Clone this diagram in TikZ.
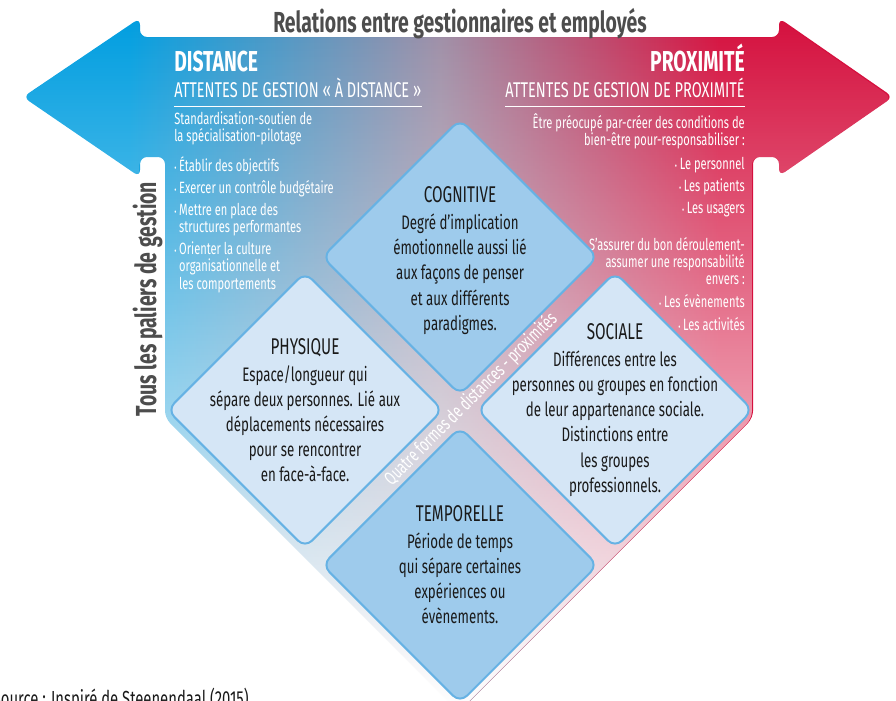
\documentclass[tikz,border=0pt]{standalone}
\usepackage{fontspec}
\setmainfont{Fira Sans}[FakeStretch=0.68]
\newfontfamily\headfont{Fira Sans}[FakeStretch=0.67]
\usetikzlibrary{shapes.geometric,fadings}

\definecolor{distblue}{RGB}{0,158,224}
\definecolor{proxred}{RGB}{213,16,62}
\definecolor{midmauve}{RGB}{158,142,166}
\definecolor{diadark}{RGB}{158,203,236}
\definecolor{dialight}{RGB}{213,230,246}
\definecolor{diaedge}{RGB}{102,178,228}
\definecolor{headgray}{RGB}{77,77,77}
\definecolor{inkgray}{RGB}{26,26,26}

% blue to red across the banner
\pgfdeclarehorizontalshading{bannershade}{100bp}{color(0bp)=(distblue); color(25bp)=(distblue);
  color(31bp)=(distblue); color(49bp)=(midmauve); color(65bp)=(proxred); color(75bp)=(proxred); color(100bp)=(proxred)}
\tikzfading[name=whiten, top color=transparent!100, middle color=transparent!55, bottom color=transparent!0]

\newcommand{\blt}{{\scriptsize\textbullet}\,}
\newcommand{\bltgap}{\hphantom{\blt}}

\begin{document}
\begin{tikzpicture}[x=0.025cm,y=-0.025cm]
\tikzset{dia/.style = {shape=diamond,draw=diaedge,line width=1.4pt,rounded corners=7pt,minimum width=6.9cm,minimum height=6.9cm,inner sep=0pt}}
\tikzset{txt/.style = {text=inkgray,align=center,inner sep=0pt,font=\fontsize{13.9}{17.8}\selectfont}}
\tikzset{side/.style = {text=white,inner sep=0pt,font=\fontsize{11.6}{12.1}\selectfont}}
\tikzset{rule/.style = {draw=white,line width=0.8pt}}
\newcommand{\formname}[1]{{\headfont\fontsize{16.2}{18}\selectfont #1}}
\useasboundingbox (0,0) rectangle (896,700);
\clip (0,0) rectangle (896,700);

% banner and body
\shade[shading=bannershade,rounded corners=5pt]
  (23,97) -- (140,18) -- (140,37) -- (779,37) -- (779,18) -- (893,97) -- (779,176)
  -- (779,157) -- (753,157) -- (753,418) -- (459,712) -- (165,418) -- (165,157)
  -- (140,157) -- (140,177) -- cycle;
\fill[white,path fading=whiten,rounded corners=5pt]
  (23,97) -- (140,18) -- (140,37) -- (779,37) -- (779,18) -- (893,97) -- (779,176)
  -- (779,157) -- (753,157) -- (753,418) -- (459,712) -- (165,418) -- (165,157)
  -- (140,157) -- (140,177) -- cycle;

% headings
\node[anchor=base,text=headgray,font=\headfont\bfseries\fontsize{20.6}{24}\selectfont] (title) at (460,32) {Relations entre gestionnaires et employés};
\node[anchor=base,rotate=90,text=headgray,font=\headfont\bfseries\fontsize{20.6}{24}\selectfont] (levels) at (156,299) {Tous les paliers de gestion};

\node[anchor=base west,text=white,inner sep=0pt,font=\headfont\bfseries\fontsize{20.5}{22}\selectfont] (dist) at (174,71) {DISTANCE};
\node[anchor=base west,text=white,inner sep=0pt,font=\fontsize{15.2}{17}\selectfont] (distsub) at (174,97) {ATTENTES DE GESTION «~À DISTANCE~»};
\node[anchor=base east,text=white,inner sep=0pt,font=\headfont\bfseries\fontsize{20.5}{22}\selectfont] (prox) at (745,71) {PROXIMITÉ};
\node[anchor=base east,text=white,inner sep=0pt,font=\fontsize{15.2}{17}\selectfont] (proxsub) at (745,97) {ATTENTES DE GESTION DE PROXIMITÉ};

\draw[rule] ([yshift=-7pt]distsub.base west) -- ([yshift=-7pt]distsub.base east);
\draw[rule] ([yshift=-7pt]proxsub.base west) -- ([yshift=-7pt]proxsub.base east);

% expectations (base = last line)
\node[side,anchor=base west,align=left] (distlist) at (174,289) {Standardisation-soutien de\\
la spécialisation-pilotage\\[7.8pt]
\blt Établir des objectifs\\[3.6pt]
\blt Exercer un contrôle budgétaire\\[3.6pt]
\blt Mettre en place des\\
\bltgap structures performantes\\[3.6pt]
\blt Orienter la culture\\
\bltgap organisationnelle et\\
\bltgap les comportements};

\node[side,anchor=base east,align=right] (proxlist) at (745,330) {Être préocupé par-créer des conditions de\\
bien-être pour-responsabiliser :\\[5pt]
\blt Le personnel\\[3.6pt]
\blt Les patients\\[3.6pt]
\blt Les usagers\\[14pt]
S’assurer du bon déroulement-\\
assumer une responsabilité\\
envers :\\[4.5pt]
\blt Les évènements\\[3.6pt]
\blt Les activités};

% the four forms
\node[dia,fill=diadark] (cog) at (460,257) {};
\node[dia,fill=dialight] (phy) at (305,410) {};
\node[dia,fill=dialight] (soc) at (615,410) {};
\node[dia,fill=diadark] (tem) at (460,565) {};

\node[txt] (cogtxt) at ([yshift=-2.5pt]cog.center) {\formname{COGNITIVE}\\[1.5pt]
Degré d’implication\\ émotionnelle aussi lié\\ aux façons de penser\\ et aux différents\\ paradigmes.};
\node[txt] (phytxt) at (phy) {\formname{PHYSIQUE}\\[1.5pt]
Espace/longueur qui\\ sépare deux personnes. Lié aux\\ déplacements nécessaires\\ pour se rencontrer\\ en face-à-face.};
\node[txt] (soctxt) at (soc) {\formname{SOCIALE}\\[1.5pt]
Différences entre les\\ personnes ou groupes en fonction\\ de leur appartenance sociale.\\ Distinctions entre\\ les groupes\\ professionnels.};
\node[txt] (temtxt) at (tem) {\formname{TEMPORELLE}\\[1.5pt]
Période de temps\\ qui sépare certaines\\ expériences ou\\ évènements.};

\node[rotate=45,text=white,inner sep=0pt,font=\fontsize{13.5}{15}\selectfont] (band) at (471,399) {Quatre formes de distances - proximités};

% source
\node[anchor=base east,text=inkgray,inner sep=0pt,font=\fontsize{15.5}{18}\selectfont] (src) at (249,706) {Source : Inspiré de Steenendaal (2015)};

\end{tikzpicture}
\end{document}
